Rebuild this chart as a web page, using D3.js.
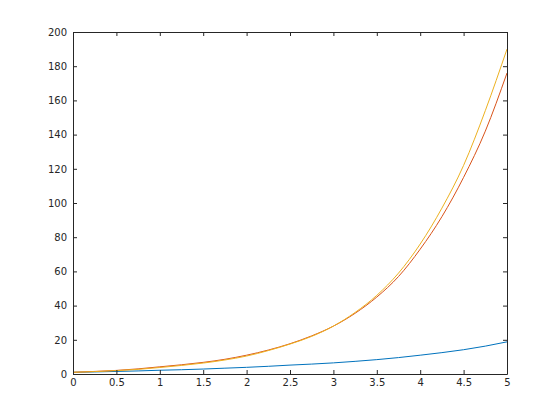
<!DOCTYPE html>
<html>
<head>
<meta charset="utf-8">
<script src="https://cdn.jsdelivr.net/npm/d3@7"></script>
<style>
  body { margin: 0; background: #fff; }
  svg { display: block; }
  .axis text { font-family: "DejaVu Sans", sans-serif; font-size: 10px; fill: #262626; }
  .axis path, .axis line { stroke: #262626; }
</style>
</head>
<body>
<div id="chart"></div>
<script>
// values
var xs = [0, 0.25, 0.5, 0.75, 1, 1.25, 1.5, 1.75, 2, 2.25, 2.5, 2.75, 3, 3.25, 3.5, 3.75, 4, 4.25, 4.5, 4.75, 5];
var blueVals = [1, 1.2, 1.5, 1.8, 2.2, 2.5, 2.9, 3.4, 3.9, 4.5, 5.2, 5.8, 6.5, 7.4, 8.4, 9.6, 11, 12.5, 14.2, 16.3, 18.8];
var redVals = [1, 1.5, 2.1, 3, 4.2, 5.4, 6.8, 8.6, 11, 14, 17.7, 22.3, 28, 35.5, 45, 57, 73, 92, 115, 142, 176];
var yellowVals = [1, 1.4, 2, 2.7, 3.8, 5, 6.4, 8.2, 10.5, 13.7, 17.5, 22, 28, 36, 46, 59, 76, 97, 122, 154, 190];
var xTicks = [0, 0.5, 1, 1.5, 2, 2.5, 3, 3.5, 4, 4.5, 5];
var yTicks = [0, 20, 40, 60, 80, 100, 120, 140, 160, 180, 200];

var series = [
  { vals: blueVals, color: "#0072bd" },
  { vals: redVals, color: "#d95319" },
  { vals: yellowVals, color: "#edb120" }
];

var width = 560, height = 420;
var plotLeft = 73, plotRight = 507, plotTop = 32, plotBottom = 374;

var svg = d3.select("#chart").append("svg")
  .attr("width", width)
  .attr("height", height);

var x = d3.scaleLinear().domain([0, 5]).range([plotLeft, plotRight]);
var y = d3.scaleLinear().domain([0, 200]).range([plotBottom, plotTop]);

var line = d3.line()
  .x(function(d) { return x(d[0]); })
  .y(function(d) { return y(d[1]); })
  .curve(d3.curveMonotoneX);

series.forEach(function(s) {
  svg.append("path")
    .datum(xs.map(function(v, i) { return [v, s.vals[i]]; }))
    .attr("fill", "none")
    .attr("stroke", s.color)
    .attr("stroke-width", 1)
    .attr("d", line);
});

// axes, ticks pointing inward on all four sides
svg.append("g").attr("class", "axis")
  .attr("transform", "translate(0," + plotBottom + ")")
  .call(d3.axisBottom(x).tickValues(xTicks).tickSizeInner(-4).tickSizeOuter(0).tickPadding(5).tickFormat(d3.format("")));

svg.append("g").attr("class", "axis")
  .attr("transform", "translate(" + plotLeft + ",0)")
  .call(d3.axisLeft(y).tickValues(yTicks).tickSizeInner(-4).tickSizeOuter(0).tickPadding(6).tickFormat(d3.format("")));

svg.append("g").attr("class", "axis")
  .attr("transform", "translate(0," + plotTop + ")")
  .call(d3.axisTop(x).tickValues(xTicks).tickSizeInner(-4).tickSizeOuter(0).tickFormat(""));

svg.append("g").attr("class", "axis")
  .attr("transform", "translate(" + plotRight + ",0)")
  .call(d3.axisRight(y).tickValues(yTicks).tickSizeInner(-4).tickSizeOuter(0).tickFormat(""));
</script>
</body>
</html>
